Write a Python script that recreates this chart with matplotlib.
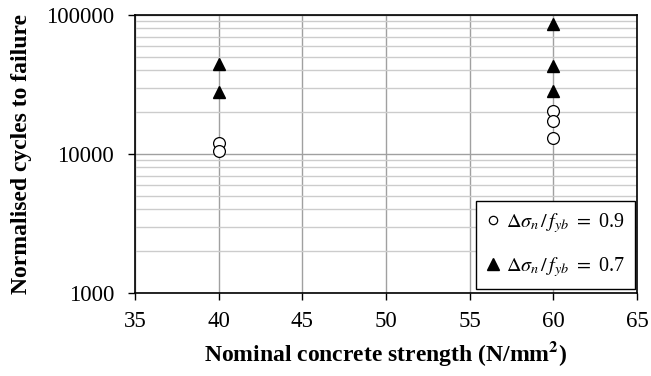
import matplotlib
matplotlib.use('Agg')
import matplotlib.pyplot as plt
from matplotlib.ticker import LogLocator, NullFormatter, FixedLocator

# ==================== 数据 ====================
strength_09 = [40, 40, 60, 60, 60]
cycles_09 = [12000, 10500, 20400, 17300, 13000]

strength_07 = [40, 40, 60, 60, 60]
cycles_07 = [44400, 27900, 86100, 42900, 28400]

x_ticks = [35, 40, 45, 50, 55, 60, 65]
y_ticks = [1000, 10000, 100000]

label_09 = r'$\mathit{\Delta}\sigma_n\,/\,f_{yb}\ =$ 0.9'
label_07 = r'$\mathit{\Delta}\sigma_n\,/\,f_{yb}\ =$ 0.7'

# ==================== 样式 ====================
plt.rcParams['font.family'] = ['Liberation Serif', 'DejaVu Serif']
plt.rcParams['mathtext.fontset'] = 'stix'
plt.rcParams['font.size'] = 16.5

fig = plt.figure(figsize=(6.51, 3.76), dpi=100)
ax = fig.add_axes([0.2074, 0.2207, 0.7711, 0.7394])

ax.set_yscale('log')
ax.set_xlim(35, 65)
ax.set_ylim(1000, 100000)

ax.xaxis.set_major_locator(FixedLocator(x_ticks))
ax.yaxis.set_major_locator(FixedLocator(y_ticks))
ax.set_yticklabels([str(v) for v in y_ticks])
ax.yaxis.set_minor_locator(LogLocator(base=10, subs=range(2, 10)))
ax.yaxis.set_minor_formatter(NullFormatter())

ax.grid(True, which='major', color='#a0a0a0', linewidth=1.0)
ax.grid(True, which='minor', axis='y', color='#cccccc', linewidth=1.0)
ax.set_axisbelow(True)

ax.tick_params(which='major', direction='out', length=5, width=1, color='black',
               labelsize=16.5)
ax.tick_params(axis='x', pad=8)
ax.tick_params(axis='y', pad=10)
ax.tick_params(which='minor', length=0)
for sp in ax.spines.values():
    sp.set_linewidth(1.2)

ax.plot(strength_09, cycles_09, linestyle='none', marker='o', markersize=8.5,
        markerfacecolor='white', markeredgecolor='black', markeredgewidth=0.9,
        label=label_09)
ax.plot(strength_07, cycles_07, linestyle='none', marker='^', markersize=9,
        color='black', label=label_07)

ax.set_xlabel('Nominal concrete strength (N/mm$^{\\mathbf{2}}$)', fontweight='bold',
              fontsize=17, labelpad=5)
ax.set_ylabel('Normalised cycles to failure', fontweight='bold', fontsize=17,
              labelpad=10)

leg = ax.legend(loc='lower right', frameon=True, fancybox=False, handlelength=0.7,
                handletextpad=0.3, labelspacing=1.0, borderpad=0.5,
                borderaxespad=0, bbox_to_anchor=(0.996, 0.014), fontsize=14.5)
leg.get_frame().set_edgecolor('black')
leg.get_frame().set_linewidth(1.0)
leg.get_frame().set_alpha(1.0)
leg.legend_handles[0].set_markersize(6)

fig.savefig('out.png', dpi=100, facecolor='white')
